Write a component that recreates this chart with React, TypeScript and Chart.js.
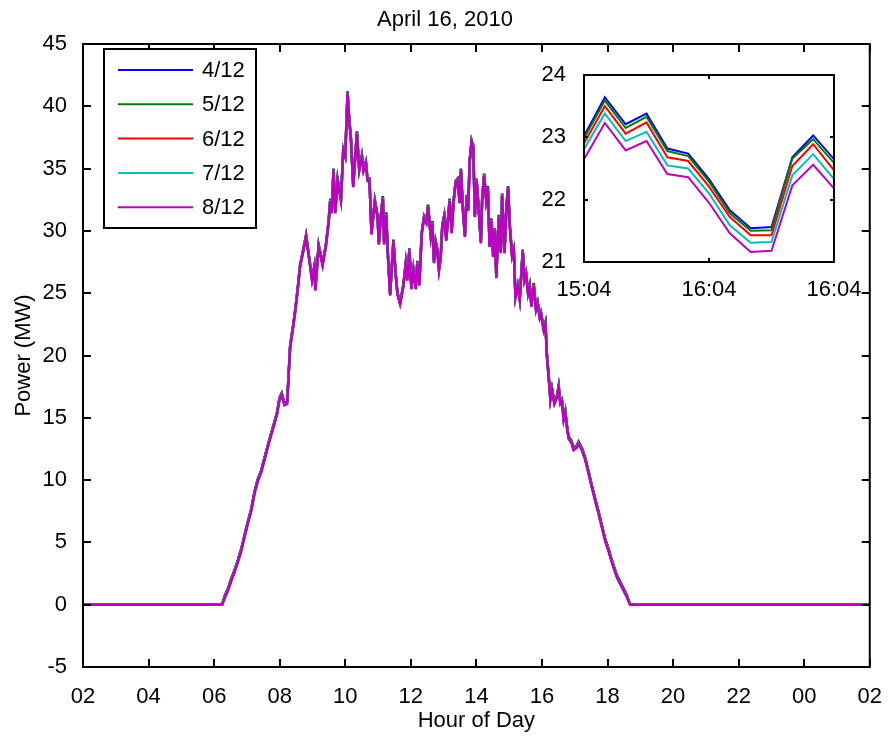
import React, { useEffect, useRef } from "react";
import { Chart, registerables } from "chart.js";

Chart.register(...registerables);

const FONT = '"Liberation Sans", Arial, Helvetica, sans-serif';

// ---------- text ----------
const chartTitle = "April 16, 2010";
const xAxisTitle = "Hour of Day";
const yAxisTitle = "Power (MW)";
const seriesLabels = ["4/12", "5/12", "6/12", "7/12", "8/12"];
const seriesColors = ["#0000ff", "#008000", "#ff0000", "#00bfbf", "#bf00bf"];
const xTickLabels = ["02", "04", "06", "08", "10", "12", "14", "16", "18", "20", "22", "00", "02"];
const insetXTickLabels = ["15:04", "16:04", "16:04"];

// ---------- main data (hour of day, MW) ----------
const sampleHours = [
  2, 6.243, 6.319, 6.42, 6.523, 6.624, 6.724, 6.827, 6.928, 7.028,
  7.132, 7.232, 7.332, 7.436, 7.536, 7.636, 7.74, 7.84, 7.922, 7.992,
  8.062, 8.144, 8.227, 8.266, 8.318, 8.418, 8.479, 8.549, 8.622, 8.701,
  8.805, 8.905, 8.987, 9.057, 9.087, 9.188, 9.309, 9.413, 9.492, 9.544,
  9.589, 9.641, 9.696, 9.766, 9.869, 9.939, 10.0, 10.07, 10.122, 10.173,
  10.243, 10.356, 10.426, 10.508, 10.557, 10.63, 10.678, 10.739, 10.8, 10.903,
  10.983, 11.025, 11.086, 11.147, 11.186, 11.247, 11.308, 11.369, 11.408, 11.469,
  11.542, 11.591, 11.673, 11.773, 11.846, 11.895, 11.956, 12.017, 12.078, 12.151,
  12.199, 12.26, 12.333, 12.403, 12.473, 12.525, 12.607, 12.656, 12.707, 12.759,
  12.808, 12.859, 12.911, 12.96, 13.021, 13.081, 13.142, 13.185, 13.246, 13.306,
  13.367, 13.428, 13.489, 13.529, 13.589, 13.65, 13.702, 13.751, 13.793, 13.854,
  13.903, 13.954, 14.006, 14.076, 14.137, 14.176, 14.237, 14.298, 14.35, 14.402,
  14.462, 14.511, 14.563, 14.608, 14.684, 14.745, 14.785, 14.858, 14.919, 14.967,
  15.019, 15.089, 15.141, 15.192, 15.262, 15.323, 15.414, 15.466, 15.515, 15.576,
  15.627, 15.679, 15.749, 15.819, 15.871, 15.932, 15.971, 16.053, 16.105, 16.154,
  16.205, 16.257, 16.306, 16.379, 16.458, 16.51, 16.561, 16.61, 16.662, 16.713,
  16.762, 16.814, 16.896, 16.966, 17.066, 17.118, 17.218, 17.322, 17.422, 17.522,
  17.626, 17.726, 17.827, 17.93, 18.03, 18.131, 18.283, 18.435, 18.587, 18.691,
  26,
];

const power4_12 = [
  0, 0, 0.7, 1.3, 2.1, 2.8, 3.6, 4.5, 5.6, 6.7,
  7.7, 9.1, 10.1, 10.8, 11.8, 12.8, 13.8, 14.7, 15.5, 16.6,
  17.0, 16.2, 16.3, 18.2, 20.8, 22.6, 23.8, 25.4, 27.3, 28.3,
  29.7, 27.8, 26.2, 27.2, 25.4, 28.9, 27.4, 29.0, 30.8, 32.6,
  31.6, 35.0, 31.6, 34.2, 32.6, 36.6, 36.1, 41.2, 39.0, 37.5,
  33.7, 38.0, 35.0, 36.1, 35.0, 35.6, 34.2, 34.2, 29.9, 32.5,
  31.3, 29.1, 31.3, 32.8, 29.1, 31.5, 27.8, 25.0, 26.7, 29.3,
  26.5, 25.1, 24.3, 25.7, 27.5, 26.2, 28.6, 25.5, 27.0, 25.5,
  27.6, 25.8, 29.9, 31.2, 30.8, 32.1, 29.7, 30.8, 27.6, 29.2,
  28.6, 27.0, 28.0, 30.5, 31.3, 29.4, 31.3, 32.6, 30.0, 32.5,
  34.0, 34.2, 32.4, 35.0, 31.8, 29.7, 32.9, 31.8, 35.6, 37.3,
  36.9, 31.3, 34.2, 31.6, 29.2, 32.6, 34.6, 32.6, 33.6, 28.9,
  31.0, 28.1, 30.2, 26.4, 31.3, 28.4, 33.0, 28.4, 32.1, 33.6,
  30.5, 28.1, 28.6, 24.8, 25.7, 24.6, 28.5, 26.2, 26.7, 25.1,
  25.7, 24.1, 25.8, 23.8, 24.3, 23.2, 23.5, 22.2, 22.7, 20.0,
  18.4, 16.6, 17.4, 16.3, 16.8, 17.6, 16.3, 16.5, 15.0, 15.6,
  14.4, 13.5, 13.2, 12.6, 12.8, 13.1, 12.6, 11.8, 10.7, 9.6,
  8.5, 7.5, 6.4, 5.3, 4.5, 3.6, 2.4, 1.6, 0.8, 0,
  0,
];

const power5_12 = [
  0, 0, 0.65, 1.25, 2.05, 2.75, 3.55, 4.45, 5.55, 6.65,
  7.65, 9.05, 10.05, 10.75, 11.75, 12.75, 13.75, 14.65, 15.45, 16.55,
  16.95, 16.15, 16.25, 18.15, 20.75, 22.55, 23.75, 25.35, 27.25, 28.25,
  29.65, 27.75, 26.15, 27.15, 25.35, 28.85, 27.35, 28.95, 30.75, 32.55,
  31.55, 34.95, 31.55, 34.15, 32.55, 36.55, 36.05, 41.15, 38.95, 37.45,
  33.65, 37.95, 34.95, 36.05, 34.95, 35.55, 34.15, 34.15, 29.85, 32.45,
  31.25, 29.05, 31.25, 32.75, 29.05, 31.45, 27.75, 24.95, 26.65, 29.25,
  26.45, 25.05, 24.25, 25.65, 27.45, 26.15, 28.55, 25.45, 26.95, 25.45,
  27.55, 25.75, 29.85, 31.15, 30.75, 32.05, 29.65, 30.75, 27.55, 29.15,
  28.55, 26.95, 27.95, 30.45, 31.25, 29.35, 31.25, 32.55, 29.95, 32.45,
  33.95, 34.15, 32.35, 34.95, 31.75, 29.65, 32.85, 31.75, 35.55, 37.25,
  36.85, 31.25, 34.15, 31.55, 29.15, 32.55, 34.55, 32.55, 33.55, 28.85,
  30.95, 28.05, 30.15, 26.35, 31.25, 28.35, 32.95, 28.35, 32.05, 33.55,
  30.45, 28.05, 28.55, 24.75, 25.65, 24.55, 28.45, 26.15, 26.65, 25.05,
  25.65, 24.05, 25.75, 23.75, 24.25, 23.15, 23.45, 22.15, 22.65, 19.95,
  18.35, 16.55, 17.35, 16.25, 16.75, 17.55, 16.25, 16.45, 14.95, 15.55,
  14.35, 13.45, 13.15, 12.55, 12.75, 13.05, 12.55, 11.75, 10.65, 9.55,
  8.45, 7.45, 6.35, 5.25, 4.45, 3.55, 2.35, 1.55, 0.75, 0,
  0,
];

const power6_12 = [
  0, 0, 0.6, 1.2, 2.0, 2.7, 3.5, 4.4, 5.5, 6.6,
  7.6, 9.0, 10.0, 10.7, 11.7, 12.7, 13.7, 14.6, 15.4, 16.5,
  16.9, 16.1, 16.2, 18.1, 20.7, 22.5, 23.7, 25.3, 27.2, 28.2,
  29.6, 27.7, 26.1, 27.1, 25.3, 28.8, 27.3, 28.9, 30.7, 32.5,
  31.5, 34.9, 31.5, 34.1, 32.5, 36.5, 36.0, 41.1, 38.9, 37.4,
  33.6, 37.9, 34.9, 36.0, 34.9, 35.5, 34.1, 34.1, 29.8, 32.4,
  31.2, 29.0, 31.2, 32.7, 29.0, 31.4, 27.7, 24.9, 26.6, 29.2,
  26.4, 25.0, 24.2, 25.6, 27.4, 26.1, 28.5, 25.4, 26.9, 25.4,
  27.5, 25.7, 29.8, 31.1, 30.7, 32.0, 29.6, 30.7, 27.5, 29.1,
  28.5, 26.9, 27.9, 30.4, 31.2, 29.3, 31.2, 32.5, 29.9, 32.4,
  33.9, 34.1, 32.3, 34.9, 31.7, 29.6, 32.8, 31.7, 35.5, 37.2,
  36.8, 31.2, 34.1, 31.5, 29.1, 32.5, 34.5, 32.5, 33.5, 28.8,
  30.9, 28.0, 30.1, 26.3, 31.2, 28.3, 32.9, 28.3, 32.0, 33.5,
  30.4, 28.0, 28.5, 24.7, 25.6, 24.5, 28.4, 26.1, 26.6, 25.0,
  25.6, 24.0, 25.7, 23.7, 24.2, 23.1, 23.4, 22.1, 22.6, 19.9,
  18.3, 16.5, 17.3, 16.2, 16.7, 17.5, 16.2, 16.4, 14.9, 15.5,
  14.3, 13.4, 13.1, 12.5, 12.7, 13.0, 12.5, 11.7, 10.6, 9.5,
  8.4, 7.4, 6.3, 5.2, 4.4, 3.5, 2.3, 1.5, 0.7, 0,
  0,
];

const power7_12 = [
  0, 0, 0.55, 1.15, 1.95, 2.65, 3.45, 4.35, 5.45, 6.55,
  7.55, 8.95, 9.95, 10.65, 11.65, 12.65, 13.65, 14.55, 15.35, 16.45,
  16.85, 16.05, 16.15, 18.05, 20.65, 22.45, 23.65, 25.25, 27.15, 28.15,
  29.55, 27.65, 26.05, 27.05, 25.25, 28.75, 27.25, 28.85, 30.65, 32.45,
  31.45, 34.85, 31.45, 34.05, 32.45, 36.45, 35.95, 41.05, 38.85, 37.35,
  33.55, 37.85, 34.85, 35.95, 34.85, 35.45, 34.05, 34.05, 29.75, 32.35,
  31.15, 28.95, 31.15, 32.65, 28.95, 31.35, 27.65, 24.85, 26.55, 29.15,
  26.35, 24.95, 24.15, 25.55, 27.35, 26.05, 28.45, 25.35, 26.85, 25.35,
  27.45, 25.65, 29.75, 31.05, 30.65, 31.95, 29.55, 30.65, 27.45, 29.05,
  28.45, 26.85, 27.85, 30.35, 31.15, 29.25, 31.15, 32.45, 29.85, 32.35,
  33.85, 34.05, 32.25, 34.85, 31.65, 29.55, 32.75, 31.65, 35.45, 37.15,
  36.75, 31.15, 34.05, 31.45, 29.05, 32.45, 34.45, 32.45, 33.45, 28.75,
  30.85, 27.95, 30.05, 26.25, 31.15, 28.25, 32.85, 28.25, 31.95, 33.45,
  30.35, 27.95, 28.45, 24.65, 25.55, 24.45, 28.35, 26.05, 26.55, 24.95,
  25.55, 23.95, 25.65, 23.65, 24.15, 23.05, 23.35, 22.05, 22.55, 19.85,
  18.25, 16.45, 17.25, 16.15, 16.65, 17.45, 16.15, 16.35, 14.85, 15.45,
  14.25, 13.35, 13.05, 12.45, 12.65, 12.95, 12.45, 11.65, 10.55, 9.45,
  8.35, 7.35, 6.25, 5.15, 4.35, 3.45, 2.25, 1.45, 0.65, 0,
  0,
];

const power8_12 = [
  0, 0, 0.5, 1.1, 1.9, 2.6, 3.4, 4.3, 5.4, 6.5,
  7.5, 8.9, 9.9, 10.6, 11.6, 12.6, 13.6, 14.5, 15.3, 16.4,
  16.8, 16.0, 16.1, 18.0, 20.6, 22.4, 23.6, 25.2, 27.1, 28.1,
  29.5, 27.6, 26.0, 27.0, 25.2, 28.7, 27.2, 28.8, 30.6, 32.4,
  31.4, 34.8, 31.4, 34.0, 32.4, 36.4, 35.9, 41.0, 38.8, 37.3,
  33.5, 37.8, 34.8, 35.9, 34.8, 35.4, 34.0, 34.0, 29.7, 32.3,
  31.1, 28.9, 31.1, 32.6, 28.9, 31.3, 27.6, 24.8, 26.5, 29.1,
  26.3, 24.9, 24.1, 25.5, 27.3, 26.0, 28.4, 25.3, 26.8, 25.3,
  27.4, 25.6, 29.7, 31.0, 30.6, 31.9, 29.5, 30.6, 27.4, 29.0,
  28.4, 26.8, 27.8, 30.3, 31.1, 29.2, 31.1, 32.4, 29.8, 32.3,
  33.8, 34.0, 32.2, 34.8, 31.6, 29.5, 32.7, 31.6, 35.4, 37.1,
  36.7, 31.1, 34.0, 31.4, 29.0, 32.4, 34.4, 32.4, 33.4, 28.7,
  30.8, 27.9, 30.0, 26.2, 31.1, 28.2, 32.8, 28.2, 31.9, 33.4,
  30.3, 27.9, 28.4, 24.6, 25.5, 24.4, 28.3, 26.0, 26.5, 24.9,
  25.5, 23.9, 25.6, 23.6, 24.1, 23.0, 23.3, 22.0, 22.5, 19.8,
  18.2, 16.4, 17.2, 16.1, 16.6, 17.4, 16.1, 16.3, 14.8, 15.4,
  14.2, 13.3, 13.0, 12.4, 12.6, 12.9, 12.4, 11.6, 10.5, 9.4,
  8.3, 7.3, 6.2, 5.1, 4.3, 3.4, 2.2, 1.4, 0.6, 0,
  0,
];

// ---------- inset data (minutes after 15:04, MW) ----------
const insetMinutes = [0, 5, 10, 15, 20, 25, 30, 35, 40, 45, 50, 55, 60];
const inset4_12 = [23.02, 23.64, 23.21, 23.38, 22.82, 22.74, 22.33, 21.83, 21.54, 21.56, 22.68, 23.03, 22.65];
const inset5_12 = [22.98, 23.59, 23.15, 23.33, 22.78, 22.70, 22.29, 21.78, 21.50, 21.51, 22.66, 22.97, 22.59];
const inset6_12 = [22.90, 23.50, 23.06, 23.24, 22.68, 22.62, 22.21, 21.72, 21.43, 21.43, 22.54, 22.89, 22.47];
const inset7_12 = [22.81, 23.38, 22.94, 23.09, 22.55, 22.50, 22.10, 21.59, 21.31, 21.32, 22.39, 22.73, 22.33];
const inset8_12 = [22.65, 23.23, 22.79, 22.94, 22.41, 22.36, 21.95, 21.46, 21.16, 21.18, 22.23, 22.56, 22.18];

const mainSeries = [power4_12, power5_12, power6_12, power7_12, power8_12];
const insetSeries = [inset4_12, inset5_12, inset6_12, inset7_12, inset8_12];

const toPoints = (xs: number[], ys: number[]) => xs.map((x, i) => ({ x, y: ys[i] }));

// MATLAB-style box with inward ticks
const makeBoxPlugin = (id: string, tickLen: number, fillBg: boolean) => ({
  id,
  beforeDraw(chart: any) {
    if (!fillBg) return;
    const { ctx, chartArea: a } = chart;
    ctx.save();
    ctx.fillStyle = "#ffffff";
    ctx.fillRect(a.left, a.top, a.right - a.left, a.bottom - a.top);
    ctx.restore();
  },
  afterDatasetsDraw(chart: any) {
    const { ctx, chartArea: a, scales } = chart;
    ctx.save();
    ctx.strokeStyle = "#000";
    ctx.lineWidth = 2;
    ctx.beginPath();
    for (const t of scales.x.ticks) {
      const px = Math.round(scales.x.getPixelForValue(t.value));
      ctx.moveTo(px, a.bottom);
      ctx.lineTo(px, a.bottom - tickLen);
      ctx.moveTo(px, a.top);
      ctx.lineTo(px, a.top + tickLen);
    }
    for (const t of scales.y.ticks) {
      const py = Math.round(scales.y.getPixelForValue(t.value));
      ctx.moveTo(a.left, py);
      ctx.lineTo(a.left + tickLen, py);
      ctx.moveTo(a.right, py);
      ctx.lineTo(a.right - tickLen, py);
    }
    ctx.stroke();
    ctx.strokeRect(a.left, a.top, a.right - a.left, a.bottom - a.top);
    ctx.restore();
  },
});

const mainDecorPlugin = {
  id: "mainDecor",
  afterDraw(chart: any) {
    const { ctx, chartArea: a } = chart;
    ctx.save();
    ctx.fillStyle = "#000";
    ctx.font = `22px ${FONT}`;
    ctx.textAlign = "center";
    ctx.textBaseline = "alphabetic";
    ctx.fillText(chartTitle, 445, 26);
    ctx.fillText(xAxisTitle, (a.left + a.right) / 2, 727);
    ctx.save();
    ctx.translate(30, (a.top + a.bottom) / 2);
    ctx.rotate(-Math.PI / 2);
    ctx.fillText(yAxisTitle, 0, 0);
    ctx.restore();

    // legend
    const lx = 104, ly = 49, lw = 152, lh = 179;
    ctx.fillStyle = "#fff";
    ctx.fillRect(lx, ly, lw, lh);
    ctx.strokeStyle = "#000";
    ctx.lineWidth = 2;
    ctx.strokeRect(lx, ly, lw, lh);
    const ds = chart.data.datasets;
    ds.forEach((d: any, i: number) => {
      const y = 70 + i * 34.3;
      ctx.strokeStyle = d.borderColor;
      ctx.lineWidth = 2;
      ctx.beginPath();
      ctx.moveTo(118, y);
      ctx.lineTo(193, y);
      ctx.stroke();
      ctx.fillStyle = "#000";
      ctx.textAlign = "left";
      ctx.textBaseline = "middle";
      ctx.fillText(d.label, 202, y + 1);
    });
    ctx.restore();
  },
};

const tickFont = { family: FONT, size: 22 };

function MainChart() {
  const ref = useRef<HTMLCanvasElement>(null);
  useEffect(() => {
    const canvas = ref.current;
    if (!canvas) return;
    const chart = new Chart(canvas, {
      type: "line",
      data: {
        datasets: seriesLabels.map((label, i) => ({
          label,
          data: toPoints(sampleHours, mainSeries[i]),
          borderColor: seriesColors[i],
          backgroundColor: seriesColors[i],
          borderWidth: 2.5,
          pointRadius: 0,
          fill: false,
          tension: 0,
          order: seriesLabels.length - 1 - i,
        })),
      },
      options: {
        animation: false,
        responsive: false,
        devicePixelRatio: 1,
        events: [],
        layout: { padding: { top: 44, right: 19, left: 0, bottom: 0 } },
        plugins: { legend: { display: false }, title: { display: false }, tooltip: { enabled: false } },
        scales: {
          x: {
            type: "linear",
            min: 2,
            max: 26,
            grid: { display: false },
            border: { display: false },
            ticks: {
              stepSize: 2,
              autoSkip: false,
              maxRotation: 0,
              padding: 9,
              color: "#000",
              font: tickFont,
              callback: (_v: any, i: number) => xTickLabels[i],
            },
            afterFit: (s: any) => {
              s.height = 69;
            },
          },
          y: {
            type: "linear",
            min: -5,
            max: 45,
            grid: { display: false },
            border: { display: false },
            ticks: { stepSize: 5, padding: 8, color: "#000", font: tickFont },
            afterFit: (s: any) => {
              s.width = 83;
            },
          },
        },
      } as any,
      plugins: [makeBoxPlugin("mainBox", 8, false), mainDecorPlugin],
    });
    return () => chart.destroy();
  }, []);
  return (
    <canvas
      ref={ref}
      width={891}
      height={736}
      style={{ position: "absolute", left: 0, top: 0, width: 891, height: 736 }}
    />
  );
}

function InsetChart() {
  const ref = useRef<HTMLCanvasElement>(null);
  useEffect(() => {
    const canvas = ref.current;
    if (!canvas) return;
    const chart = new Chart(canvas, {
      type: "line",
      data: {
        datasets: seriesLabels.map((label, i) => ({
          label,
          data: toPoints(insetMinutes, insetSeries[i]),
          borderColor: seriesColors[i],
          backgroundColor: seriesColors[i],
          borderWidth: 2,
          pointRadius: 0,
          fill: false,
          tension: 0,
          order: seriesLabels.length - 1 - i,
        })),
      },
      options: {
        animation: false,
        responsive: false,
        devicePixelRatio: 1,
        events: [],
        layout: { padding: { top: 25, right: 57, left: 0, bottom: 0 } },
        plugins: { legend: { display: false }, title: { display: false }, tooltip: { enabled: false } },
        scales: {
          x: {
            type: "linear",
            min: 0,
            max: 60,
            grid: { display: false },
            border: { display: false },
            ticks: {
              stepSize: 30,
              autoSkip: false,
              maxRotation: 0,
              padding: 7,
              color: "#000",
              font: tickFont,
              callback: (_v: any, i: number) => insetXTickLabels[i],
            },
            afterFit: (s: any) => {
              s.height = 48;
            },
          },
          y: {
            type: "linear",
            min: 21,
            max: 24,
            grid: { display: false },
            border: { display: false },
            ticks: { stepSize: 1, padding: 10, color: "#000", font: tickFont },
            afterFit: (s: any) => {
              s.width = 84;
            },
          },
        },
      } as any,
      plugins: [makeBoxPlugin("insetBox", 4, true)],
    });
    return () => chart.destroy();
  }, []);
  return (
    <canvas
      ref={ref}
      width={391}
      height={260}
      style={{ position: "absolute", left: 500, top: 50, width: 391, height: 260 }}
    />
  );
}

export default function App() {
  return (
    <div
      style={{
        position: "fixed",
        left: 0,
        top: 0,
        width: 891,
        height: 736,
        background: "#fff",
        overflow: "hidden",
      }}
    >
      <MainChart />
      <InsetChart />
    </div>
  );
}
